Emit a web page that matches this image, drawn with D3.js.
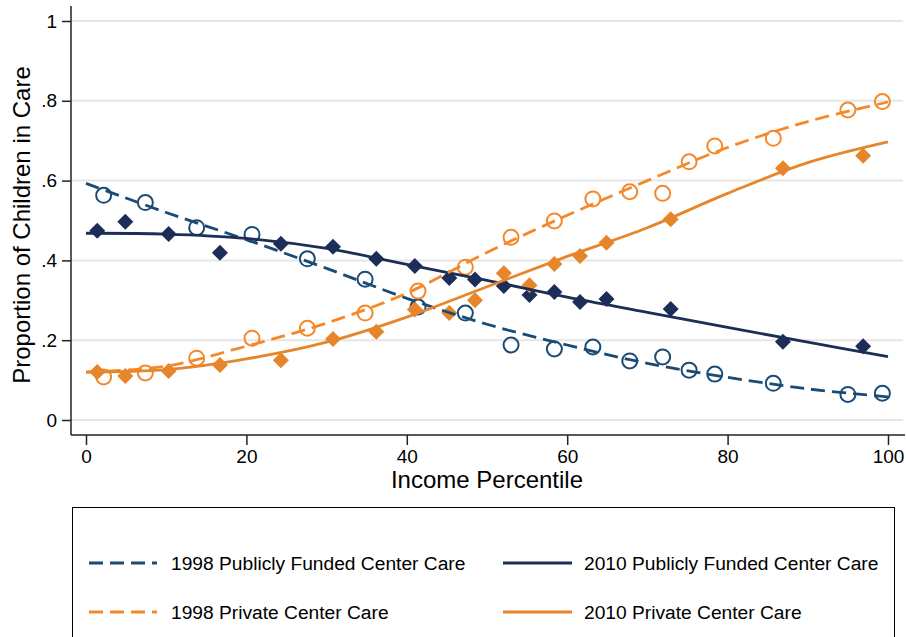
<!DOCTYPE html>
<html>
<head>
<meta charset="utf-8">
<script src="https://cdn.jsdelivr.net/npm/d3@7"></script>
<style>
  body { margin: 0; background: #fff; }
  svg { display: block; font-family: "Liberation Sans", Arial, sans-serif; }
</style>
</head>
<body>
<div id="chart"></div>
<script>
// percentiles where the binned means sit
const pct98 = [2.2, 7.4, 13.8, 20.7, 27.6, 34.8, 41.4, 47.3, 53.0, 58.4, 63.2, 67.8, 71.9, 75.2, 78.4, 85.7, 95.0, 99.3];
const pct10 = [1.4, 4.9, 10.3, 16.7, 24.3, 30.8, 36.2, 41.0, 45.3, 48.5, 52.1, 55.3, 58.4, 61.6, 64.9, 72.9, 86.9, 96.9];

const pub98 = [0.563, 0.545, 0.482, 0.465, 0.404, 0.353, 0.283, 0.268, 0.188, 0.178, 0.183, 0.148, 0.158, 0.125, 0.115, 0.092, 0.064, 0.067];
const priv98 = [0.108, 0.118, 0.155, 0.205, 0.230, 0.268, 0.323, 0.383, 0.458, 0.499, 0.554, 0.572, 0.568, 0.647, 0.687, 0.706, 0.777, 0.798];
const pub10 = [0.474, 0.497, 0.466, 0.419, 0.442, 0.434, 0.404, 0.386, 0.356, 0.352, 0.336, 0.313, 0.321, 0.296, 0.303, 0.278, 0.196, 0.185];
const priv10 = [0.120, 0.110, 0.123, 0.138, 0.150, 0.203, 0.221, 0.277, 0.268, 0.300, 0.368, 0.338, 0.391, 0.411, 0.444, 0.503, 0.631, 0.662];

// fitted curves
const fitX = [0, 10, 20, 30, 40, 50, 60, 70, 80, 90, 100];
const fitPub98 = [0.593, 0.52, 0.452, 0.38, 0.305, 0.24, 0.188, 0.142, 0.107, 0.078, 0.058];
const fitPub10 = [0.468, 0.466, 0.455, 0.43, 0.39, 0.35, 0.308, 0.27, 0.232, 0.195, 0.159];
const fitPriv98 = [0.12, 0.135, 0.185, 0.243, 0.318, 0.42, 0.513, 0.60, 0.683, 0.748, 0.797];
const fitPriv10 = [0.12, 0.126, 0.153, 0.195, 0.258, 0.334, 0.41, 0.482, 0.568, 0.645, 0.697];

const xTicks = [0, 20, 40, 60, 80, 100];
const yTicks = [0, 0.2, 0.4, 0.6, 0.8, 1];

const series = [
  { name: "1998 Publicly Funded Center Care", xs: pct98, ys: pub98, fit: fitPub98, color: "#1a4b74", dash: true, marker: "circle", col: 0, row: 0 },
  { name: "2010 Publicly Funded Center Care", xs: pct10, ys: pub10, fit: fitPub10, color: "#1c2d58", dash: false, marker: "diamond", col: 1, row: 0 },
  { name: "1998 Private Center Care", xs: pct98, ys: priv98, fit: fitPriv98, color: "#f5882a", dash: true, marker: "circle", col: 0, row: 1 },
  { name: "2010 Private Center Care", xs: pct10, ys: priv10, fit: fitPriv10, color: "#e6852a", dash: false, marker: "diamond", col: 1, row: 1 }
];

const width = 906, height = 637;
const axisX = 71, axisY = 435;

const x = d3.scaleLinear().domain([0, 100]).range([86, 888]);
const y = d3.scaleLinear().domain([0, 1]).range([420, 21]);

const svg = d3.select("#chart").append("svg")
  .attr("width", width)
  .attr("height", height);

// grid
svg.append("g")
  .selectAll("line")
  .data(yTicks)
  .join("line")
  .attr("x1", axisX)
  .attr("x2", 903)
  .attr("y1", d => y(d))
  .attr("y2", d => y(d))
  .attr("stroke", "#e6e6e6")
  .attr("stroke-width", 2);

// axes
const yFmt = d => d === 0 ? "0" : d === 1 ? "1" : d3.format(".1f")(d).replace(/^0/, "");

const yAxis = svg.append("g")
  .attr("transform", `translate(${axisX},0)`)
  .call(d3.axisLeft(y).tickValues(yTicks).tickFormat(yFmt).tickSize(9).tickPadding(5));
yAxis.select(".domain").remove();

const xAxis = svg.append("g")
  .attr("transform", `translate(0,${axisY})`)
  .call(d3.axisBottom(x).tickValues(xTicks).tickSize(10).tickPadding(5));
xAxis.select(".domain").remove();

svg.selectAll(".tick text")
  .attr("font-size", 19)
  .attr("font-family", "Liberation Sans, Arial, sans-serif")
  .attr("fill", "#000");
svg.selectAll(".tick line")
  .attr("stroke", "#222")
  .attr("stroke-width", 1.5);

svg.append("line")
  .attr("x1", axisX).attr("x2", axisX)
  .attr("y1", 6).attr("y2", axisY)
  .attr("stroke", "#222").attr("stroke-width", 1.5);
svg.append("line")
  .attr("x1", axisX).attr("x2", 905)
  .attr("y1", axisY).attr("y2", axisY)
  .attr("stroke", "#222").attr("stroke-width", 1.5);

// titles
svg.append("text")
  .attr("x", 487)
  .attr("y", 488)
  .attr("text-anchor", "middle")
  .attr("font-size", 24)
  .text("Income Percentile");

svg.append("text")
  .attr("transform", "translate(30,225) rotate(-90)")
  .attr("text-anchor", "middle")
  .attr("font-size", 24)
  .text("Proportion of Children in Care");

// markers
const diamond = d3.symbol().type(d3.symbolSquare).size(128);

series.forEach(s => {
  const pts = s.xs.map((v, i) => [v, s.ys[i]]);
  const g = svg.append("g");
  if (s.marker === "circle") {
    g.selectAll("circle")
      .data(pts)
      .join("circle")
      .attr("cx", d => x(d[0]))
      .attr("cy", d => y(d[1]))
      .attr("r", 7.5)
      .attr("fill", "none")
      .attr("stroke", s.color)
      .attr("stroke-width", 2);
  } else {
    g.selectAll("path")
      .data(pts)
      .join("path")
      .attr("d", diamond)
      .attr("transform", d => `translate(${x(d[0])},${y(d[1])}) rotate(45)`)
      .attr("fill", s.color);
  }
});

// fitted lines
const line = d3.line()
  .x(d => x(d[0]))
  .y(d => y(d[1]))
  .curve(d3.curveCatmullRom.alpha(0.5));

series.forEach(s => {
  svg.append("path")
    .datum(fitX.map((v, i) => [v, s.fit[i]]))
    .attr("d", line)
    .attr("fill", "none")
    .attr("stroke", s.color)
    .attr("stroke-width", 2.8)
    .attr("stroke-dasharray", s.dash ? "14,7" : null);
});

// legend
svg.append("rect")
  .attr("x", 72.5)
  .attr("y", 507.5)
  .attr("width", 822)
  .attr("height", 150)
  .attr("fill", "none")
  .attr("stroke", "#000")
  .attr("stroke-width", 1);

const leg = svg.append("g")
  .selectAll("g")
  .data(series)
  .join("g")
  .attr("transform", d => `translate(${d.col ? 503 : 89},${d.row ? 612 : 563})`);

leg.append("line")
  .attr("x1", 0)
  .attr("x2", d => d.dash ? 68 : 69)
  .attr("stroke", d => d.color)
  .attr("stroke-width", 3)
  .attr("stroke-dasharray", d => d.dash ? "14,7" : null);

leg.append("text")
  .attr("x", d => d.col ? 81 : 82)
  .attr("dy", "0.35em")
  .attr("font-size", 19.2)
  .text(d => d.name);
</script>
</body>
</html>
